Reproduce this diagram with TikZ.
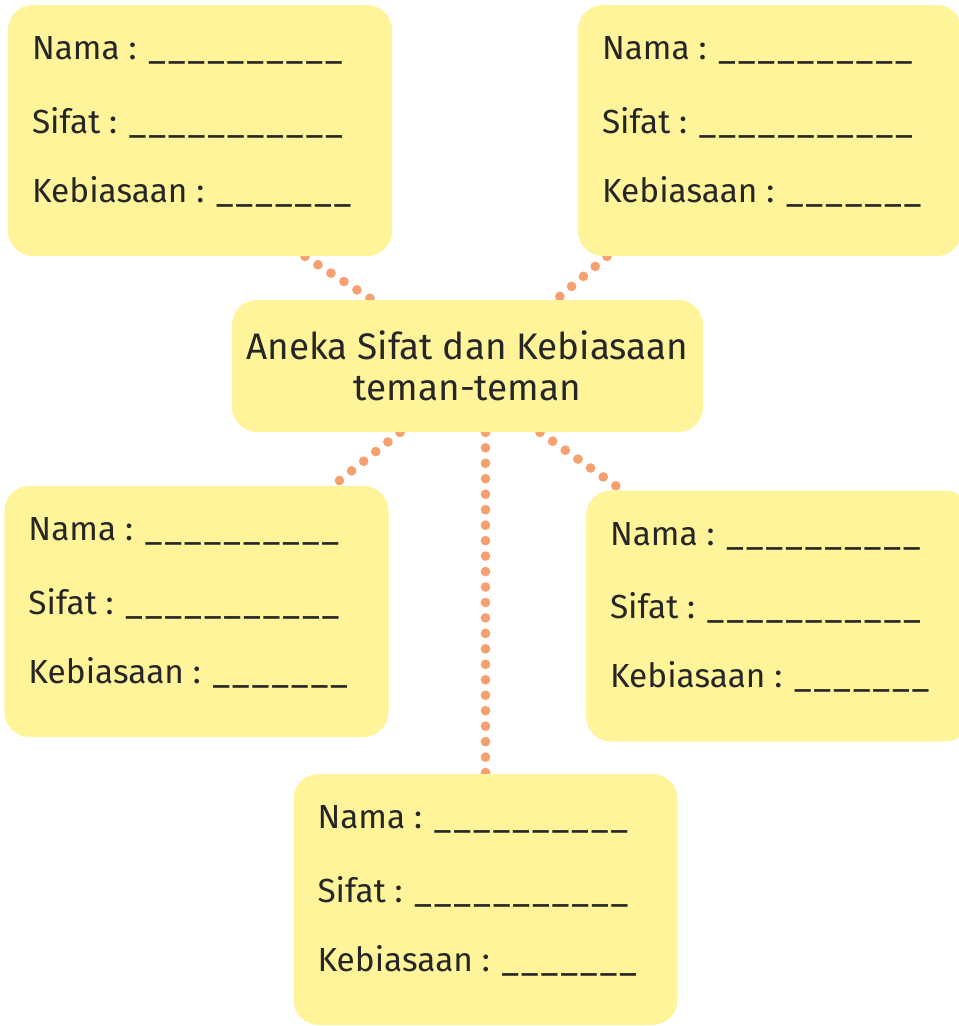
\documentclass[tikz,border=0pt]{standalone}
\usepackage{fontspec}
\setmainfont{Fira Sans}
\usetikzlibrary{calc,backgrounds}

\definecolor{kuning}{HTML}{FFF499}
\definecolor{oranye}{HTML}{F5A06E}
\newcommand{\isian}[1]{\foreach \i in {1,...,#1}{\_\kern1.3pt}}

\begin{document}
\begin{tikzpicture}[
  kartu/.style={rectangle,rounded corners=0.5cm,fill=kuning,minimum width=7.68cm,minimum height=5.02cm},
  isi/.style={anchor=west,inner sep=0pt,font=\fontsize{19}{23}\selectfont,text=black!85},
  titik/.style={draw=oranye,line width=5.5pt,line cap=round,dash pattern=on 0pt off 8.8pt}
]

\useasboundingbox (0,0) rectangle (19.16,-20.52);

\node[kartu,minimum width=9.42cm,minimum height=2.64cm,align=center,
  font=\fontsize{21}{23}\selectfont,text=black!85] (pusat) at (9.35,-7.32)
  {Aneka Sifat dan Kebiasaan\\teman-teman};

\foreach \k/\x/\y in {tl/4.0/-2.61, tr/15.4/-2.61, ml/3.93/-12.23, mr/15.56/-12.32, bw/9.71/-17.99} {
  \node[kartu] (\k) at (\x,\y) {};
  \node[isi] (\k-nama) at ($(\k.north west)+(0.48,-0.92)$) {Nama : \isian{10}};
  \node[isi] (\k-sifat) at ($(\k.north west)+(0.48,-2.36)$) {Sifat : \isian{11}};
  \node[isi] (\k-kebiasaan) at ($(\k.north west)+(0.48,-3.74)$) {Kebiasaan : \isian{7}};
}

% garis titik-titik ke kotak tengah
\begin{scope}[on background layer]
\draw[titik] ([xshift=2.1cm]tl.south) -- ([xshift=-1.91cm]pusat.north);
\draw[titik] ([xshift=-3.26cm]tr.south) -- ([xshift=1.77cm]pusat.north);
\draw[titik] ([xshift=-1.35cm]pusat.south) -- ([xshift=2.73cm]ml.north);
\draw[titik] (bw.north |- pusat.south) -- (bw.north);
\draw[titik] ([xshift=1.45cm]pusat.south) -- ([xshift=-3.12cm]mr.north);
\end{scope}

\end{tikzpicture}
\end{document}
